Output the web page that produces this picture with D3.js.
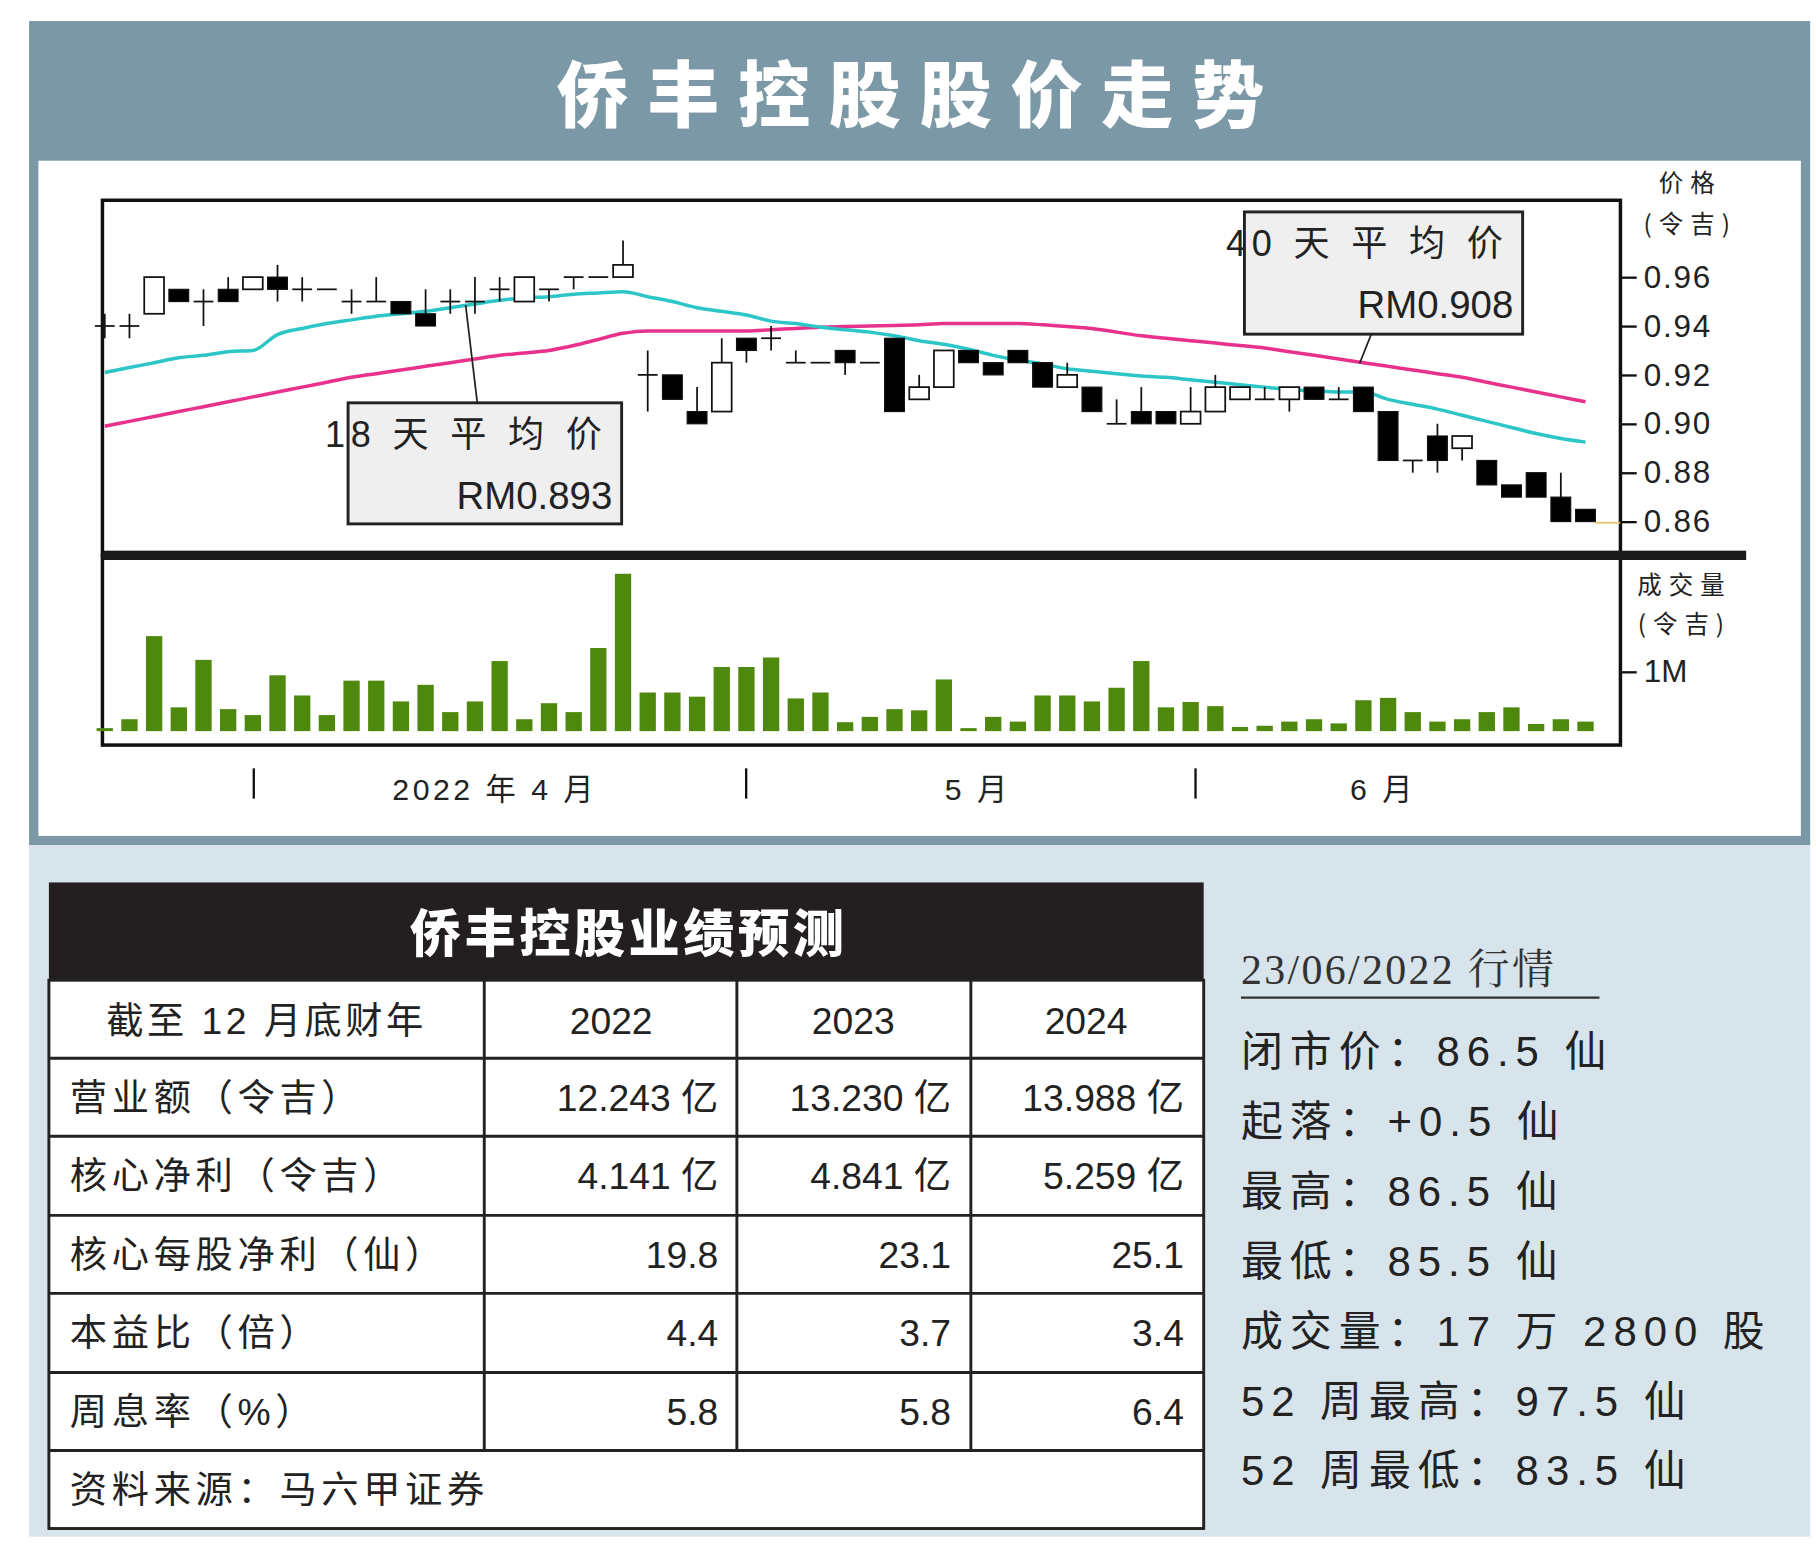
<!DOCTYPE html>
<html><head><meta charset="utf-8">
<script src="https://cdn.jsdelivr.net/npm/d3@7"></script>
<style>body{margin:0;background:#fff}svg{display:block}</style>
</head><body>
<script>
const opens  = [.94,.94,.945,.955,.95,.955,.955,.96,.955,.955,.95,.95,.95,.945,.95,.95,.955,.95,.955,.96,.96,.96,.92,.92,.905,.905,.935,.935,.925,.925,.93,.925,.935,.91,.915,.93,.925,.93,.925,.915,.915,.90,.905,.905,.90,.905,.91,.91,.91,.915,.91,.915,.905,.885,.895,.89,.885,.875,.88,.87,.865];
const closes = [.94,.94,.96,.95,.95,.95,.96,.955,.955,.955,.95,.95,.945,.94,.95,.95,.955,.96,.955,.96,.96,.965,.92,.91,.90,.925,.93,.935,.925,.925,.925,.925,.905,.915,.93,.925,.92,.925,.915,.92,.905,.90,.90,.90,.905,.915,.915,.91,.915,.91,.91,.905,.885,.885,.885,.895,.875,.87,.87,.86,.86];
const highs  = [.945,.945,.96,.955,.955,.96,.96,.965,.96,.955,.955,.96,.95,.955,.955,.96,.96,.96,.955,.96,.96,.975,.93,.92,.915,.935,.935,.94,.93,.925,.93,.925,.935,.92,.93,.93,.925,.93,.925,.925,.915,.91,.915,.905,.915,.92,.915,.915,.915,.915,.915,.915,.905,.885,.90,.895,.885,.875,.88,.88,.865];
const lows   = [.935,.935,.945,.95,.94,.95,.955,.95,.95,.955,.945,.95,.945,.94,.945,.945,.95,.95,.95,.955,.96,.96,.905,.91,.90,.905,.925,.93,.925,.925,.92,.925,.905,.91,.915,.925,.92,.925,.915,.915,.905,.90,.90,.90,.90,.905,.91,.91,.905,.91,.91,.905,.885,.88,.88,.885,.875,.87,.87,.86,.86];
const ma18 = [.921,.923,.925,.927,.928,.9295,.930,.9365,.939,.941,.9425,.944,.945,.946,.9475,.949,.9505,.9515,.952,.953,.9535,.954,.952,.950,.9475,.946,.9445,.942,.941,.9395,.9385,.9375,.936,.934,.9325,.9305,.928,.926,.9245,.9225,.9215,.9205,.9195,.919,.918,.917,.916,.915,.914,.9135,.913,.913,.910,.908,.906,.9035,.901,.8985,.896,.894,.8925];
const ma40 = [.899,.901,.903,.905,.907,.909,.911,.913,.915,.917,.919,.9205,.922,.9235,.925,.9265,.928,.929,.930,.932,.9345,.937,.938,.938,.938,.938,.938,.9385,.939,.9395,.9398,.94,.9402,.9405,.941,.941,.941,.941,.9405,.9398,.939,.9375,.936,.935,.934,.933,.932,.931,.9295,.928,.9265,.925,.9235,.922,.9205,.919,.917,.915,.913,.911,.909];
const volumes = [0.05,0.2,1.6,0.4,1.2,0.37,0.27,0.94,0.6,0.27,0.85,0.85,0.5,0.78,0.32,0.5,1.18,0.2,0.47,0.32,1.4,2.65,0.65,0.65,0.58,1.08,1.08,1.24,0.55,0.65,0.15,0.24,0.37,0.35,0.87,0.05,0.24,0.16,0.6,0.6,0.5,0.73,1.18,0.4,0.49,0.42,0.07,0.09,0.16,0.2,0.13,0.52,0.56,0.32,0.16,0.2,0.32,0.4,0.12,0.2,0.16];
const priceTicks = [0.96,0.94,0.92,0.90,0.88,0.86];
const monthLabels = ["2022 年 4 月","5 月","6 月"];
const title = "侨丰控股股价走势";
const tableTitle = "侨丰控股业绩预测";
const tableHeader = ["截至 12 月底财年","2022","2023","2024"];
const tableRows = [
  ["营业额（令吉）","12.243 亿","13.230 亿","13.988 亿"],
  ["核心净利（令吉）","4.141 亿","4.841 亿","5.259 亿"],
  ["核心每股净利（仙）","19.8","23.1","25.1"],
  ["本益比（倍）","4.4","3.7","3.4"],
  ["周息率（%）","5.8","5.8","6.4"]
];
const tableSource = "资料来源：马六甲证券";
const infoTitle = "23/06/2022 行情";
const infoLines = ["闭市价：86.5 仙","起落：+0.5 仙","最高：86.5 仙","最低：85.5 仙","成交量：17 万 2800 股","52 周最高：97.5 仙","52 周最低：83.5 仙"];

const F = "'Liberation Sans','Noto Sans CJK SC',sans-serif";
const CJK = "'Noto Sans CJK SC','Liberation Sans',sans-serif";
const svg = d3.select("body").append("svg").attr("width",1816).attr("height",1560).attr("viewBox","0 0 1560 1340");

// panels
svg.append("rect").attr("x",25).attr("y",18).attr("width",1530).attr("height",708).attr("fill","#7b98a6");
svg.append("rect").attr("x",33).attr("y",138).attr("width",1514).attr("height",580).attr("fill","#fff");
svg.append("rect").attr("x",25).attr("y",726).attr("width",1530).attr("height",594).attr("fill","#d7e4eb");
svg.append("text").attr("x",790).attr("y",104).attr("text-anchor","middle").attr("fill","#fff")
  .attr("font-family",CJK).attr("font-weight",900).attr("font-size",62).attr("letter-spacing",16).text(title);

const x = d3.scaleLinear().domain([0,60]).range([90,1362]);
const y = d3.scaleLinear().domain([0.86,0.96]).range([448,238]);
const yv = d3.scaleLinear().domain([0,1]).range([628,577]);

// frames
svg.append("rect").attr("x",88).attr("y",172).attr("width",1304).attr("height",305).attr("fill","none").attr("stroke","#111").attr("stroke-width",3);
svg.append("rect").attr("x",88).attr("y",477).attr("width",1304).attr("height",163).attr("fill","none").attr("stroke","#111").attr("stroke-width",3);
svg.append("rect").attr("x",88).attr("y",473).attr("width",1412).attr("height",8).attr("fill","#1a1a1a");

// MA lines
const line = arr => d3.line().x((d,i)=>x(i)).y(d=>y(d)).curve(d3.curveMonotoneX)(arr);
svg.append("path").attr("d",line(ma40)).attr("fill","none").attr("stroke","#e8318a").attr("stroke-width",3);
svg.append("path").attr("d",line(ma18)).attr("fill","none").attr("stroke","#2cc6c6").attr("stroke-width",3);

// candles
const bw = 17;
const cg = svg.append("g");
opens.forEach((o,i)=>{
  const c = closes[i], cx = x(i);
  cg.append("line").attr("x1",cx).attr("x2",cx).attr("y1",y(highs[i])).attr("y2",y(lows[i])).attr("stroke","#111").attr("stroke-width",1.5);
  if (o===c) {
    if (highs[i]!==lows[i] || true) cg.append("line").attr("x1",cx-bw/2).attr("x2",cx+bw/2).attr("y1",y(o)).attr("y2",y(o)).attr("stroke","#111").attr("stroke-width",1.5);
  } else {
    cg.append("rect").attr("x",cx-bw/2).attr("width",bw).attr("y",y(Math.max(o,c))).attr("height",Math.abs(y(o)-y(c)))
      .attr("fill",c<o?"#000":"#fff").attr("stroke","#111").attr("stroke-width",c<o?1:1.5);
  }
});
svg.append("line").attr("x1",x(60)+8).attr("x2",1392).attr("y1",y(0.86)+1).attr("y2",y(0.86)+1).attr("stroke","#e5c46a").attr("stroke-width",1.5);

// volume bars
svg.append("g").selectAll("rect").data(volumes).join("rect")
  .attr("x",(d,i)=>x(i)-7).attr("width",14).attr("y",d=>yv(d)).attr("height",d=>yv(0)-yv(d)).attr("fill","#4e880c");

// axes
const ay = svg.append("g").attr("transform","translate(1392,0)").call(d3.axisRight(y).tickValues(priceTicks).tickSize(14).tickFormat(d3.format(".2f")));
ay.select(".domain").remove();
ay.selectAll("line").attr("stroke","#111").attr("stroke-width",2);
ay.selectAll("text").attr("font-family",F).attr("font-size",27).attr("fill","#222").attr("letter-spacing",1.5).attr("x",20);
const av = svg.append("g").attr("transform","translate(1392,0)").call(d3.axisRight(yv).tickValues([1]).tickSize(14).tickFormat(()=>"1M"));
av.select(".domain").remove();
av.selectAll("line").attr("stroke","#111").attr("stroke-width",2);
av.selectAll("text").attr("font-family",F).attr("font-size",27).attr("fill","#222").attr("x",20);

const side = (t,xx,yy)=>svg.append("text").attr("x",xx).attr("y",yy).attr("text-anchor","middle").attr("font-family",CJK).attr("font-size",21).attr("letter-spacing",6).attr("fill","#222").text(t);
side("价格",1452,165); side("(令吉)",1452,200); side("成交量",1447,510); side("(令吉)",1447,544);

// month ticks/labels
[218,641,1027].forEach(xx=>svg.append("line").attr("x1",xx).attr("x2",xx).attr("y1",660).attr("y2",686).attr("stroke","#111").attr("stroke-width",2));
[[425,monthLabels[0]],[840,monthLabels[1]],[1188,monthLabels[2]]].forEach(([xx,t])=>
  svg.append("text").attr("x",xx).attr("y",687).attr("text-anchor","middle").attr("font-family",F).attr("font-size",26).attr("letter-spacing",3).attr("fill","#222").text(t));

// annotation boxes
function box(x0,y0,w,h,t1,t2,lx1,ly1,lx2,ly2){
  svg.append("line").attr("x1",lx1).attr("y1",ly1).attr("x2",lx2).attr("y2",ly2).attr("stroke","#222").attr("stroke-width",1.5);
  svg.append("rect").attr("x",x0).attr("y",y0).attr("width",w).attr("height",h).attr("fill","#efefef").attr("stroke","#222").attr("stroke-width",2.5);
  svg.append("text").attr("x",x0+w-12).attr("y",y0+38).attr("text-anchor","end").attr("font-family",F).attr("font-size",31).attr("letter-spacing",5).attr("fill","#222").text(t1);
  svg.append("text").attr("x",x0+w-8).attr("y",y0+91).attr("text-anchor","end").attr("font-family",F).attr("font-size",33).attr("fill","#222").text(t2);
}
box(299,346,235,104,"18 天 平 均 价","RM0.893",410,346,400,262);
box(1069,182,239,105,"40 天 平 均 价","RM0.908",1178,287,1168,312);

// table
svg.append("rect").attr("x",42).attr("y",758).attr("width",992).attr("height",84).attr("fill","#231f20");
svg.append("text").attr("x",540).attr("y",818).attr("text-anchor","middle").attr("fill","#fff").attr("font-family",CJK).attr("font-weight",900).attr("font-size",44).attr("letter-spacing",3).text(tableTitle);
const rowY = [842,909,976,1044,1111,1179,1246,1313];
svg.append("rect").attr("x",42).attr("y",842).attr("width",992).attr("height",471).attr("fill","#fff").attr("stroke","#222").attr("stroke-width",2.5);
rowY.slice(1,7).forEach(yy=>svg.append("line").attr("x1",42).attr("x2",1034).attr("y1",yy).attr("y2",yy).attr("stroke","#222").attr("stroke-width",2.5));
[416,633,834].forEach(xx=>svg.append("line").attr("x1",xx).attr("x2",xx).attr("y1",842).attr("y2",1246).attr("stroke","#222").attr("stroke-width",2.5));
const tt = (t,xx,yy,anchor,ls)=>svg.append("text").attr("x",xx).attr("y",yy).attr("text-anchor",anchor).attr("font-family",F).attr("font-size",32).attr("letter-spacing",ls||0).attr("fill","#222").text(t);
tt(tableHeader[0],229,888,"middle",3); tt(tableHeader[1],525,888,"middle"); tt(tableHeader[2],733,888,"middle"); tt(tableHeader[3],933,888,"middle");
tableRows.forEach((r,i)=>{
  const yy = rowY[i+1]+45;
  tt(r[0],60,yy,"start",4); tt(r[1],617,yy,"end"); tt(r[2],817,yy,"end"); tt(r[3],1017,yy,"end");
});
tt(tableSource,60,1291,"start",4);

// info
svg.append("text").attr("x",1066).attr("y",845).attr("font-family","'Liberation Serif','Noto Serif CJK SC',serif").attr("font-size",36).attr("fill","#333").attr("letter-spacing",2).text(infoTitle);
svg.append("line").attr("x1",1066).attr("x2",1374).attr("y1",857).attr("y2",857).attr("stroke","#333").attr("stroke-width",2);
infoLines.forEach((t,i)=>svg.append("text").attr("x",1066).attr("y",916+i*60).attr("font-family",F).attr("font-size",36).attr("letter-spacing",6).attr("fill","#222").text(t));
</script>
</body></html>
